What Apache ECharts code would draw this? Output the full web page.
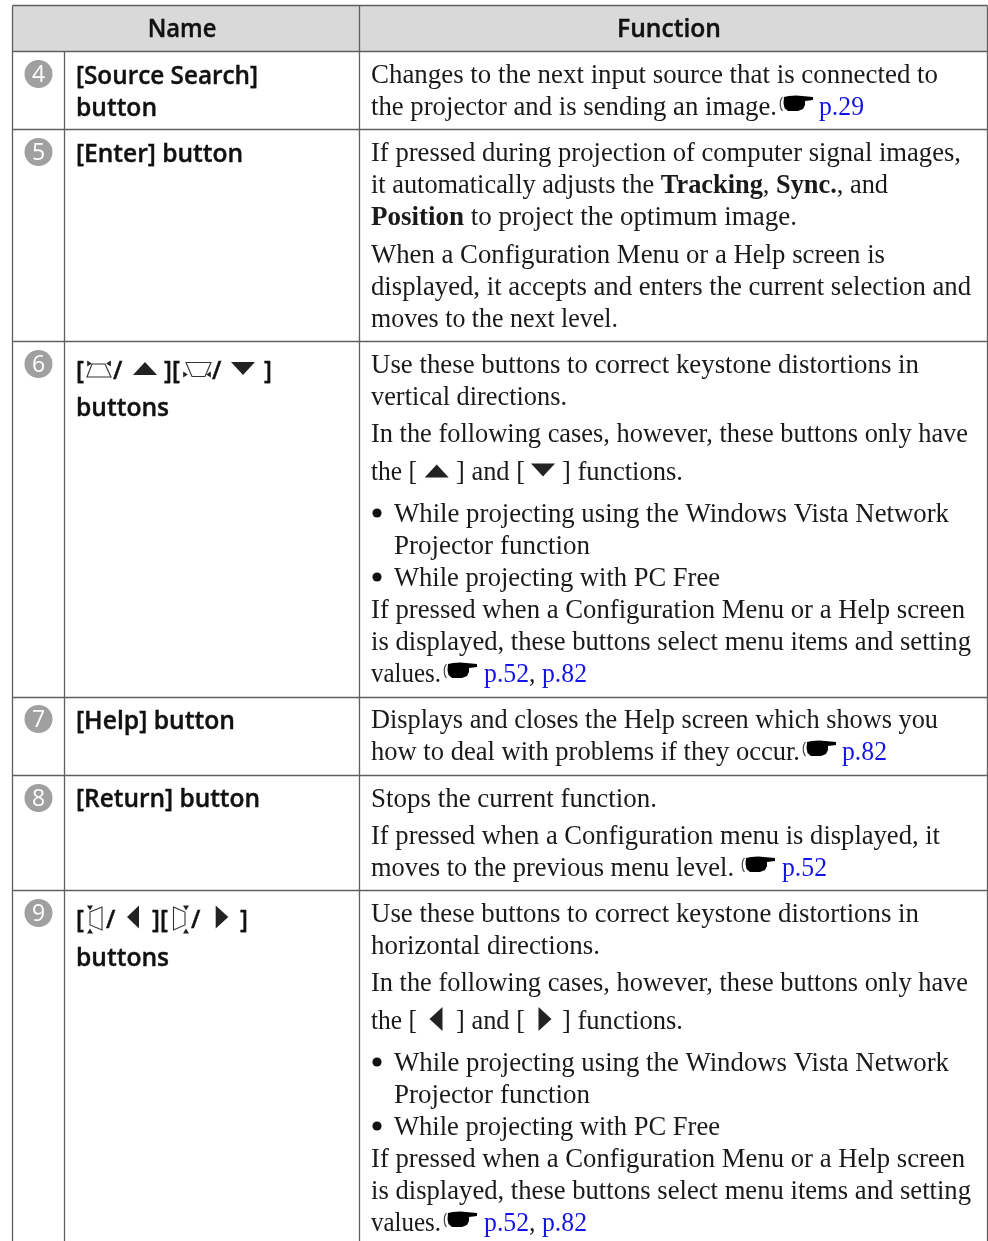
<!DOCTYPE html>
<html>
<head>
<meta charset="utf-8">
<style>html,body{margin:0;padding:0;background:#fff}#main{width:988px;height:1241px}</style>
<script src="https://cdn.jsdelivr.net/npm/echarts@6/dist/echarts.min.js"></script>
</head>
<body>
<div id="main"></div>
<script>
// table content
var headers = ['Name', 'Function'];
var badges = ['4', '5', '6', '7', '8', '9'];
var nameLines = ['[Source Search]', 'button', '[Enter] button', 'buttons', '[Help] button', '[Return] button', 'buttons',
    '[', '/', '][', '/', ']', '[', '/', '][', '/', ']'];
var functionLines = [
    'Changes to the next input source that is connected to',
    'the projector and is sending an image.',
    '{a|p.29}',
    'If pressed during projection of computer signal images,',
    'it automatically adjusts the {b|Tracking}, {b|Sync.}, and',
    '{b|Position} to project the optimum image.',
    'When a Configuration Menu or a Help screen is',
    'displayed, it accepts and enters the current selection and',
    'moves to the next level.',
    'Use these buttons to correct keystone distortions in',
    'vertical directions.',
    'In the following cases, however, these buttons only have',
    'the [', '] and [', '] functions.',
    'While projecting using the Windows Vista Network',
    'Projector function',
    'While projecting with PC Free',
    'If pressed when a Configuration Menu or a Help screen',
    'is displayed, these buttons select menu items and setting',
    'values.',
    '{a|p.52}, {a|p.82}',
    'Displays and closes the Help screen which shows you',
    'how to deal with problems if they occur.',
    '{a|p.82}',
    'Stops the current function.',
    'If pressed when a Configuration menu is displayed, it',
    'moves to the previous menu level.',
    '{a|p.52}',
    'Use these buttons to correct keystone distortions in',
    'horizontal directions.',
    'In the following cases, however, these buttons only have',
    'the [', '] and [', '] functions.',
    'While projecting using the Windows Vista Network',
    'Projector function',
    'While projecting with PC Free',
    'If pressed when a Configuration Menu or a Help screen',
    'is displayed, these buttons select menu items and setting',
    'values.',
    '{a|p.52}, {a|p.82}'
];

// layout, in page pixels
var tableLeft = 12.5, col1 = 64.5, col2 = 359.5, tableRight = 987.5;
var headTop = 5.5, headBottom = 51.5, pageBottom = 1241;
var rowEdges = [129.5, 341.5, 697.5, 775.5, 890.5];
var badgeY = [74, 152, 364, 719, 798, 913];
var nameX = [76, 76, 76, 76, 76, 76, 76, 76, 113, 164, 212, 264, 76, 106, 152, 191, 240];
var nameEnd = [258, 157, 243, 169, 235, 260, 169, 0, 0, 0, 0, 0, 0, 0, 0, 0, 0];
var nameY = [77, 109, 155, 409, 722, 800, 959, 372, 372, 372, 372, 372, 921, 921, 921, 921, 921];
var fnX = [371, 371, 819, 371, 371, 371, 371, 371, 371, 371, 371, 371, 371, 456, 562, 394, 394, 394, 371, 371, 371, 484, 371, 371, 842, 371, 371, 371, 782, 371, 371, 371, 371, 456, 562, 394, 394, 394, 371, 371, 371, 484];
var fnEnd = [938, 777, 864, 961, 888, 797, 885, 971, 618, 919, 567, 968, 417, 525, 683, 949, 590, 720, 965, 971, 441, 587, 938, 800, 887, 657, 940, 734, 827, 919, 600, 968, 417, 525, 683, 949, 590, 720, 965, 971, 441, 587];
var fnY = [76, 108, 108, 154, 186, 218, 256, 288, 320, 366, 398, 435, 473, 473, 473, 515, 547, 579, 611, 643, 675, 675, 721, 753, 753, 800, 837, 869, 869, 915, 947, 984, 1022, 1022, 1022, 1064, 1096, 1128, 1160, 1192, 1224, 1224];
var bulletY = [513, 577, 1062, 1126];
var handAt = [[780, 106], [444, 673], [803, 751], [742, 867], [444, 1222]];
// filled triangles: centre x, centre y, half width, half height, direction
var triangles = [
    [145, 368.5, 12, 6.5, 'up'], [243, 368.5, 12, 6.5, 'down'], [436.7, 471, 12, 6.5, 'up'], [543, 470, 12, 6.5, 'down'],
    [133, 917, 6, 11.5, 'left'], [222, 917, 6.3, 11.5, 'right'], [436, 1019, 6.5, 12, 'left'], [545, 1019, 6.5, 12, 'right'],
    [89.5, 363.5, 2.3, 3, 'right'], [108.5, 363.5, 2.3, 3, 'left'], [185.5, 374.5, 2.3, 3, 'right'], [208.5, 374.5, 2.3, 3, 'left'],
    [90, 908, 3, 2.4, 'down'], [90, 931, 3, 2.4, 'up'], [186, 908, 3, 2.4, 'down'], [186, 931, 3, 2.4, 'up']
];
// keystone outlines: four corners
var keystones = [
    [[92, 364], [105, 364], [111, 377], [87, 377]],
    [[186, 362.5], [211, 362.5], [205, 376.5], [192, 376.5]],
    [[90, 912], [102, 907], [102, 930], [90, 925]],
    [[173.5, 907], [185, 912], [185, 925], [173.5, 930]]
];
// pointing hand outline, relative to handAt
var handBody = [[4, -9], [9, -10], [16, -10.5], [22, -10], [33, -9], [33, -6], [25, -5], [25, -1], [23, 3], [18, 5], [8, 5], [4.5, 2], [3.5, -3]];
var handCuff = [[2.5, -9], [0.8, -6], [0.3, -2], [0.8, 2], [2.5, 5]];

var ink = '#1a1a1a', rule = '#5f5f5f';
var serif = '"Liberation Serif"', sans = '"Open Sans"';
var fnSize = 26.5, nameSize = 25, nameScale = 0.96;
var headerScale = [0.95, 0.985];
var richStyles = {
    b: {fontFamily: serif, fontSize: fnSize, fontWeight: 'bold', fill: ink},
    a: {fontFamily: serif, fontSize: fnSize, fill: '#1414e6'}
};

// horizontal fit of a line to the width it has in the page
var ctx = document.createElement('canvas').getContext('2d');
function measure(str, family, size, weight) {
    var total = 0, last = 0, m, re = /\{(\w)\|([^}]*)\}/g;
    function run(s, w) {
        ctx.font = w + ' ' + size + 'px ' + family;
        total += ctx.measureText(s).width;
    }
    while ((m = re.exec(str))) {
        run(str.slice(last, m.index), weight);
        run(m[2], m[1] === 'b' ? 'bold' : weight);
        last = re.lastIndex;
    }
    run(str.slice(last), weight);
    return total;
}

var myChart = echarts.init(document.getElementById('main'), null, {renderer: 'canvas'});

function line(api, x1, y1, x2, y2, w) {
    var a = api.coord([x1, y1]), b = api.coord([x2, y2]);
    return {type: 'line', shape: {x1: a[0], y1: a[1], x2: b[0], y2: b[1]}, style: {stroke: rule, lineWidth: w}};
}

function textItem(api, x, y, text, family, size, weight, fill, align, scale, thicken) {
    var p = api.coord([x, y]);
    return {
        type: 'text', x: p[0], y: p[1], scaleX: scale,
        style: {text: text, x: 0, y: 0, fontFamily: family, fontSize: size, fontWeight: weight, fill: fill,
            stroke: thicken ? fill : null, lineWidth: thicken || 0,
            align: align, verticalAlign: 'middle', rich: richStyles}
    };
}

var option = {
    animation: false,
    backgroundColor: '#fff',
    grid: {left: 0, right: 0, top: 0, bottom: 0},
    xAxis: {type: 'value', min: 0, max: 988, show: false},
    yAxis: {type: 'value', min: 0, max: 1241, inverse: true, show: false},
    series: [
        { // header band
            type: 'custom', silent: true, clip: false, data: [0],
            renderItem: function (params, api) {
                var a = api.coord([tableLeft, headTop]), b = api.coord([tableRight, headBottom]);
                return {type: 'rect', shape: {x: a[0], y: a[1], width: b[0] - a[0], height: b[1] - a[1]}, style: {fill: '#d9d9d9'}};
            }
        },
        { // rules
            type: 'custom', silent: true, clip: false, data: [0],
            renderItem: function (params, api) {
                var kids = [
                    line(api, tableLeft, headTop, tableRight, headTop, 1.3),
                    line(api, tableLeft, headBottom, tableRight, headBottom, 1.3),
                    line(api, tableLeft, headTop, tableLeft, pageBottom, 1.3),
                    line(api, tableRight, headTop, tableRight, pageBottom, 1.3),
                    line(api, col2, headTop, col2, pageBottom, 1.3),
                    line(api, col1, headBottom, col1, pageBottom, 1.3)
                ];
                rowEdges.forEach(function (y) {
                    kids.push(line(api, tableLeft, y, tableRight, y, 1.3));
                });
                return {type: 'group', children: kids};
            }
        },
        { // numbered badges
            type: 'custom', silent: true, data: badges,
            renderItem: function (params, api) {
                var y = badgeY[params.dataIndex], p = api.coord([38.5, y]);
                return {type: 'group', children: [
                    {type: 'circle', shape: {cx: p[0], cy: p[1], r: 14}, style: {fill: '#a0a0a0'}},
                    textItem(api, 38.5, y + 1.5, badges[params.dataIndex], sans, 23, 400, '#fff', 'center', 1)
                ]};
            }
        },
        { // headers
            type: 'custom', silent: true, data: headers,
            renderItem: function (params, api) {
                var i = params.dataIndex;
                return textItem(api, i ? 669 : 182, 29.5, headers[i], sans, nameSize, 600, '#111', 'center', headerScale[i], 0.4);
            }
        },
        { // name column
            type: 'custom', silent: true, data: nameLines,
            renderItem: function (params, api) {
                var i = params.dataIndex;
                var scale = nameEnd[i] ? (nameEnd[i] - nameX[i]) / measure(nameLines[i], sans, nameSize, 600) : nameScale;
                return textItem(api, nameX[i], nameY[i], nameLines[i], sans, nameSize, 600, '#111', 'left', scale, 0.4);
            }
        },
        { // function column
            type: 'custom', silent: true, data: functionLines,
            renderItem: function (params, api) {
                var i = params.dataIndex;
                var scale = (fnEnd[i] - fnX[i]) / measure(functionLines[i], serif, fnSize, 400);
                return textItem(api, fnX[i], fnY[i], functionLines[i], serif, fnSize, 400, ink, 'left', scale);
            }
        },
        { // list bullets
            type: 'custom', silent: true, data: bulletY,
            renderItem: function (params, api) {
                var p = api.coord([377, bulletY[params.dataIndex]]);
                return {type: 'circle', shape: {cx: p[0], cy: p[1], r: 4.6}, style: {fill: '#111'}};
            }
        },
        { // pointing hands
            type: 'custom', silent: true, data: handAt,
            renderItem: function (params, api) {
                var h = handAt[params.dataIndex];
                function place(d) { return api.coord([h[0] + d[0], h[1] + d[1]]); }
                return {type: 'group', children: [
                    {type: 'polygon', shape: {points: handBody.map(place)}, style: {fill: '#000'}},
                    {type: 'polyline', shape: {points: handCuff.map(place), smooth: 0.4}, style: {fill: 'none', stroke: '#444', lineWidth: 1.2}}
                ]};
            }
        },
        { // filled triangles
            type: 'custom', silent: true, data: triangles,
            renderItem: function (params, api) {
                var t = triangles[params.dataIndex], x = t[0], y = t[1], w = t[2], h = t[3], pts;
                if (t[4] === 'up') pts = [[x - w, y + h], [x + w, y + h], [x, y - h]];
                if (t[4] === 'down') pts = [[x - w, y - h], [x + w, y - h], [x, y + h]];
                if (t[4] === 'left') pts = [[x + w, y - h], [x + w, y + h], [x - w, y]];
                if (t[4] === 'right') pts = [[x - w, y - h], [x - w, y + h], [x + w, y]];
                return {type: 'polygon', shape: {points: pts.map(function (d) { return api.coord(d); })}, style: {fill: '#222'}};
            }
        },
        { // keystone icons
            type: 'custom', silent: true, data: keystones,
            renderItem: function (params, api) {
                var pts = keystones[params.dataIndex].map(function (d) { return api.coord(d); });
                return {type: 'polygon', shape: {points: pts}, style: {fill: 'none', stroke: '#333', lineWidth: 1.1}};
            }
        }
    ]
};

myChart.setOption(option);
window.addEventListener("resize", function () {
    myChart.resize();
});
</script>
</body>
</html>
